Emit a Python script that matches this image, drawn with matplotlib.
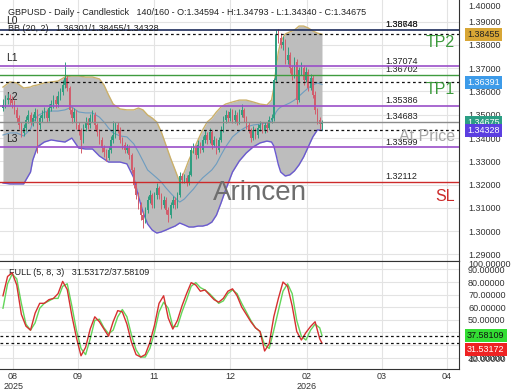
import matplotlib
import matplotlib.pyplot as plt
import matplotlib.transforms as mtransforms
import numpy as np

matplotlib.use('agg')

# --- candles (daily OHLC) ---
opens = [1.3530, 1.3542, 1.3563, 1.3572, 1.3563, 1.3550, 1.3521, 1.3486, 1.3456, 1.3422,
         1.3443, 1.3478, 1.3500, 1.3469, 1.3486, 1.3512, 1.3456, 1.3486, 1.3500, 1.3512,
         1.3486, 1.3529, 1.3546, 1.3563, 1.3546, 1.3581, 1.3598, 1.3628, 1.3658, 1.3615,
         1.3521, 1.3486, 1.3512, 1.3456, 1.3435, 1.3392, 1.3443, 1.3469, 1.3456, 1.3486,
         1.3500, 1.3456, 1.3426, 1.3392, 1.3357, 1.3340, 1.3314, 1.3349, 1.3392, 1.3413,
         1.3456, 1.3435, 1.3392, 1.3370, 1.3349, 1.3357, 1.3327, 1.3263, 1.3199, 1.3156,
         1.3113, 1.3070, 1.3048, 1.3091, 1.3134, 1.3156, 1.3113, 1.3156, 1.3186, 1.3156,
         1.3113, 1.3134, 1.3091, 1.3070, 1.3113, 1.3134, 1.3113, 1.3156, 1.3237, 1.3220,
         1.3228, 1.3211, 1.3241, 1.3349, 1.3357, 1.3327, 1.3370, 1.3349, 1.3392, 1.3413,
         1.3392, 1.3426, 1.3370, 1.3392, 1.3349, 1.3392, 1.3435, 1.3478, 1.3500, 1.3486,
         1.3512, 1.3478, 1.3500, 1.3469, 1.3500, 1.3521, 1.3486, 1.3456, 1.3435, 1.3401,
         1.3435, 1.3413, 1.3443, 1.3456, 1.3435, 1.3456, 1.3443, 1.3478, 1.3486, 1.3649,
         1.3843, 1.3830, 1.3800, 1.3813, 1.3735, 1.3757, 1.3701, 1.3670, 1.3727, 1.3563,
         1.3692, 1.3701, 1.3649, 1.3683, 1.3615, 1.3658, 1.3585, 1.3521, 1.3478, 1.34594]
highs = [1.3568, 1.3585, 1.3595, 1.3590, 1.3580, 1.3565, 1.3535, 1.3500, 1.3470, 1.3460,
         1.3495, 1.3520, 1.3512, 1.3505, 1.3530, 1.3525, 1.3500, 1.3520, 1.3535, 1.3525,
         1.3545, 1.3565, 1.3585, 1.3580, 1.3600, 1.3615, 1.3650, 1.3727, 1.3670, 1.3625,
         1.3535, 1.3530, 1.3520, 1.3470, 1.3445, 1.3460, 1.3490, 1.3485, 1.3505, 1.3520,
         1.3510, 1.3465, 1.3440, 1.3405, 1.3370, 1.3355, 1.3365, 1.3410, 1.3475, 1.3470,
         1.3468, 1.3448, 1.3405, 1.3385, 1.3375, 1.3370, 1.3335, 1.3275, 1.3210, 1.3170,
         1.3125, 1.3085, 1.3105, 1.3150, 1.3175, 1.3165, 1.3170, 1.3205, 1.3195, 1.3165,
         1.3150, 1.3145, 1.3105, 1.3125, 1.3150, 1.3145, 1.3170, 1.3255, 1.3250, 1.3245,
         1.3240, 1.3260, 1.3365, 1.3380, 1.3370, 1.3390, 1.3385, 1.3410, 1.3435, 1.3425,
         1.3445, 1.3435, 1.3410, 1.3400, 1.3405, 1.3450, 1.3495, 1.3520, 1.3515, 1.3530,
         1.3525, 1.3520, 1.3510, 1.3525, 1.3545, 1.3530, 1.3495, 1.3470, 1.3445, 1.3450,
         1.3445, 1.3460, 1.3475, 1.3470, 1.3470, 1.3468, 1.3495, 1.3505, 1.3660, 1.3865,
         1.3868, 1.3850, 1.3840, 1.3825, 1.3790, 1.3770, 1.3715, 1.3750, 1.3740, 1.3705,
         1.3725, 1.3715, 1.3705, 1.3695, 1.3675, 1.3670, 1.3600, 1.3530, 1.3490, 1.34793]
lows = [1.3518, 1.3530, 1.3548, 1.3540, 1.3530, 1.3505, 1.3470, 1.3440, 1.3405, 1.3410,
        1.3430, 1.3465, 1.3455, 1.3450, 1.3475, 1.3335, 1.3440, 1.3470, 1.3485, 1.3470,
        1.3475, 1.3515, 1.3530, 1.3530, 1.3535, 1.3565, 1.3585, 1.3615, 1.3600, 1.3505,
        1.3465, 1.3470, 1.3440, 1.3415, 1.3335, 1.3380, 1.3430, 1.3440, 1.3445, 1.3470,
        1.3440, 1.3410, 1.3375, 1.3340, 1.3320, 1.3300, 1.3305, 1.3335, 1.3380, 1.3400,
        1.3420, 1.3378, 1.3355, 1.3335, 1.3335, 1.3310, 1.3250, 1.3185, 1.3140, 1.3095,
        1.3050, 1.3015, 1.3035, 1.3080, 1.3120, 1.3100, 1.3100, 1.3140, 1.3140, 1.3095,
        1.3100, 1.3075, 1.3040, 1.3055, 1.3100, 1.3095, 1.3100, 1.3145, 1.3205, 1.3205,
        1.3195, 1.3200, 1.3235, 1.3335, 1.3310, 1.3315, 1.3335, 1.3340, 1.3380, 1.3375,
        1.3380, 1.3355, 1.3360, 1.3330, 1.3340, 1.3385, 1.3425, 1.3465, 1.3470, 1.3475,
        1.3465, 1.3465, 1.3455, 1.3460, 1.3490, 1.3470, 1.3440, 1.3420, 1.3385, 1.3390,
        1.3395, 1.3400, 1.3430, 1.3420, 1.3420, 1.3428, 1.3435, 1.3465, 1.3475, 1.3640,
        1.3810, 1.3785, 1.3780, 1.3720, 1.3720, 1.3680, 1.3650, 1.3660, 1.3545, 1.3555,
        1.3670, 1.3630, 1.3640, 1.3600, 1.3605, 1.3570, 1.3505, 1.3460, 1.3440, 1.34340]
closes = [1.3542, 1.3563, 1.3572, 1.3563, 1.3550, 1.3521, 1.3486, 1.3456, 1.3422, 1.3443,
          1.3478, 1.3500, 1.3469, 1.3486, 1.3512, 1.3456, 1.3486, 1.3500, 1.3512, 1.3486,
          1.3529, 1.3546, 1.3563, 1.3546, 1.3581, 1.3598, 1.3628, 1.3658, 1.3615, 1.3521,
          1.3486, 1.3512, 1.3456, 1.3435, 1.3392, 1.3443, 1.3469, 1.3456, 1.3486, 1.3500,
          1.3456, 1.3426, 1.3392, 1.3357, 1.3340, 1.3314, 1.3349, 1.3392, 1.3413, 1.3456,
          1.3435, 1.3392, 1.3370, 1.3349, 1.3357, 1.3327, 1.3263, 1.3199, 1.3156, 1.3113,
          1.3070, 1.3048, 1.3091, 1.3134, 1.3156, 1.3113, 1.3156, 1.3186, 1.3156, 1.3113,
          1.3134, 1.3091, 1.3070, 1.3113, 1.3134, 1.3113, 1.3156, 1.3237, 1.3220, 1.3228,
          1.3211, 1.3241, 1.3349, 1.3357, 1.3327, 1.3370, 1.3349, 1.3392, 1.3413, 1.3392,
          1.3426, 1.3370, 1.3392, 1.3349, 1.3392, 1.3435, 1.3478, 1.3500, 1.3486, 1.3512,
          1.3478, 1.3500, 1.3469, 1.3500, 1.3521, 1.3486, 1.3456, 1.3435, 1.3401, 1.3435,
          1.3413, 1.3443, 1.3456, 1.3435, 1.3456, 1.3443, 1.3478, 1.3486, 1.3649, 1.3843,
          1.3830, 1.3800, 1.3813, 1.3735, 1.3757, 1.3701, 1.3670, 1.3727, 1.3563, 1.3692,
          1.3701, 1.3649, 1.3683, 1.3615, 1.3658, 1.3585, 1.3521, 1.3478, 1.34594, 1.34675]

# --- Bollinger bands (20, 2) at these bars ---
bb_bars = [0, 3, 6, 9, 12, 13, 15, 18, 21, 24, 27, 30, 33, 36, 39, 42, 44, 46, 48, 51,
           54, 57, 59, 61, 63, 65, 67, 69, 71, 73, 75, 77, 79, 81, 83, 85, 87, 89, 91, 93,
           95, 97, 100, 103, 106, 109, 112, 115, 117, 118, 119, 120, 121, 123, 125, 127,
           129, 131, 133, 135, 137, 139]
bb_upper = [1.3619, 1.3641, 1.3637, 1.3615, 1.3619, 1.3624, 1.3628, 1.3637, 1.3641, 1.3645,
            1.3662, 1.3667, 1.3667, 1.3662, 1.3662, 1.3654, 1.3628, 1.3585, 1.3546, 1.3525,
            1.3521, 1.3521, 1.3529, 1.3521, 1.3499, 1.3486, 1.3469, 1.3426, 1.3370, 1.3314,
            1.3263, 1.3211, 1.3254, 1.3306, 1.3349, 1.3392, 1.3435, 1.3469, 1.3486, 1.3512,
            1.3533, 1.3546, 1.3555, 1.3563, 1.3563, 1.3555, 1.3546, 1.3542, 1.3563, 1.3615,
            1.3701, 1.3770, 1.3813, 1.3847, 1.3856, 1.3864, 1.3881, 1.3881, 1.3873, 1.3860,
            1.3851, 1.38455]
bb_mid = [1.3413, 1.3422, 1.3422, 1.3409, 1.3439, 1.3465, 1.3495, 1.3512, 1.3516, 1.3516,
          1.3521, 1.3533, 1.3512, 1.3508, 1.3508, 1.3490, 1.3469, 1.3443, 1.3422, 1.3409,
          1.3405, 1.3375, 1.3340, 1.3302, 1.3263, 1.3246, 1.3229, 1.3211, 1.3186, 1.3164,
          1.3143, 1.3125, 1.3138, 1.3160, 1.3181, 1.3207, 1.3229, 1.3246, 1.3263, 1.3289,
          1.3327, 1.3362, 1.3405, 1.3430, 1.3448, 1.3456, 1.3460, 1.3465, 1.3473, 1.3490,
          1.3512, 1.3525, 1.3533, 1.3542, 1.3551, 1.3563, 1.3580, 1.3598, 1.3615, 1.3628,
          1.3637, 1.36301]
bb_lower = [1.3207, 1.3203, 1.3203, 1.3203, 1.3254, 1.3306, 1.3362, 1.3383, 1.3392, 1.3387,
            1.3383, 1.3400, 1.3357, 1.3353, 1.3353, 1.3323, 1.3310, 1.3297, 1.3297, 1.3297,
            1.3289, 1.3229, 1.3151, 1.3082, 1.3031, 1.3005, 1.2992, 1.2997, 1.3005, 1.3014,
            1.3022, 1.3035, 1.3027, 1.3018, 1.3018, 1.3022, 1.3022, 1.3027, 1.3039, 1.3069,
            1.3121, 1.3177, 1.3254, 1.3302, 1.3336, 1.3362, 1.3379, 1.3387, 1.3383, 1.3366,
            1.3327, 1.3285, 1.3254, 1.3237, 1.3242, 1.3259, 1.3285, 1.3319, 1.3362, 1.3405,
            1.3435, 1.34328]

# --- Full stochastic (5, 8, 3), every second bar plus the last ---
stoch_bars = list(range(0, 140, 2)) + [139]
stoch_k = [69.1, 84.4, 87.3, 77.6, 54.4, 45.0, 41.8, 55.3, 63.1, 63.1,
           66.0, 67.0, 70.8, 80.5, 74.0, 53.4, 35.9, 21.5, 28.2, 42.7,
           52.4, 48.5, 42.7, 37.0, 48.5, 57.3, 56.3, 46.6, 32.1, 22.4,
           20.5, 22.4, 32.1, 45.6, 63.1, 69.1, 51.5, 42.7, 49.5, 61.1,
           70.8, 79.5, 77.6, 72.7, 73.7, 69.8, 66.0, 64.0, 67.0, 72.7,
           74.6, 69.1, 60.2, 54.4, 48.5, 43.7, 40.8, 25.3, 31.1, 52.4,
           67.0, 80.0, 76.6, 61.1, 40.8, 34.0, 39.9, 44.7, 48.5, 35.0,
           31.53]
stoch_d = [59.2, 78.6, 86.3, 82.5, 63.1, 46.6, 41.8, 47.6, 59.2, 63.1,
           65.0, 67.0, 67.0, 76.6, 78.6, 61.1, 41.8, 27.3, 22.4, 34.9,
           49.5, 50.5, 43.7, 39.0, 41.8, 52.4, 58.2, 52.4, 37.9, 26.3,
           20.5, 20.5, 27.3, 39.9, 56.3, 64.0, 59.2, 44.7, 44.7, 56.3,
           66.0, 76.6, 79.5, 75.6, 73.7, 70.8, 67.0, 63.1, 65.0, 70.8,
           73.7, 70.8, 63.1, 56.3, 49.5, 43.7, 40.8, 30.2, 27.3, 41.8,
           57.3, 72.7, 78.6, 70.8, 49.5, 37.0, 34.0, 41.8, 46.6, 43.7,
           37.58]

# --- horizontal levels ---
level_names = ['L0', 'L1', 'L2', 'L3']
level_values = [1.38648, 1.37074, 1.35386, 1.33599]
tp1_value = 1.36702
at_price_value = 1.34683
sl_value = 1.32112
dashed_values = [1.38455, 1.36391, 1.34328]

month_ticks = [4.4, 32.7, 65.8, 98.9, 132.5, 165.1, 193.5]
month_labels = ['08\n2025', '09', '11', '12', '02\n2026', '03', '04']

plt.rcParams['font.family'] = ['Liberation Sans', 'DejaVu Sans']

fig = plt.figure(figsize=(5.2, 3.9), dpi=100)
ax = fig.add_axes([0, 0.3308, 0.8827, 0.6692])
ax2 = fig.add_axes([0, 0.0538, 0.8827, 0.2769], sharex=ax)

o = np.array(opens)
h = np.array(highs)
lo = np.array(lows)
c = np.array(closes)
x = np.arange(len(c))
cols = np.where(c >= o, '#2f9e80', '#d25d6c')

# Bollinger bands
ax.fill_between(bb_bars, bb_lower, bb_upper, color='#bdbdbd', lw=0, zorder=1)
ax.plot(bb_bars, bb_upper, color='#cbb06a', lw=1, zorder=2)
ax.plot(bb_bars, bb_lower, color='#6a5ad0', lw=1, zorder=2)
ax.plot(bb_bars, bb_mid, color='#6d9cc0', lw=0.8, zorder=2)

# candles
ax.vlines(x, lo, h, colors=cols, lw=0.7, zorder=4)
ax.bar(x, np.maximum(np.abs(c - o), 0.00015), bottom=np.minimum(o, c),
       width=0.65, color=cols, lw=0, zorder=5)

# level lines
ax.axhline(level_values[0], color='#1c2b5a', lw=1.2, zorder=6)
for v in level_values[1:]:
    ax.axhline(v, color='#9a4fc8', lw=1.2, zorder=6)
ax.axhline(tp1_value, color='#3f9b3f', lw=1, zorder=6)
ax.axhline(at_price_value, color='#8c8c8c', lw=1, zorder=6)
ax.axhline(sl_value, color='#cc2a2a', lw=1, zorder=6)
for v in dashed_values:
    ax.axhline(v, color='#111111', lw=0.9, ls=(0, (2.2, 2.2)), zorder=6)

ax.set_xlim(-1.3, 198.7)
ax.set_ylim(1.2872, 1.3993)
ax.set_yticks(np.arange(1.29, 1.3905, 0.01))
ax.yaxis.set_major_formatter(matplotlib.ticker.FormatStrFormatter('%.5f'))
ax.yaxis.tick_right()
ax.tick_params(axis='y', length=0, pad=6.5, labelsize=6.5, labelcolor='#333333')
ax.tick_params(axis='x', length=0, labelbottom=False)
ax.set_xticks(month_ticks)
ax.grid(color='#e3e3e3', lw=0.8)
ax.set_axisbelow(True)
for side in ['left', 'top']:
    ax.spines[side].set_visible(False)
for side in ['right', 'bottom']:
    ax.spines[side].set_color('#333333')

trans = mtransforms.blended_transform_factory(ax.transAxes, ax.transData)

# texts on main panel
ax.text(0.0174, 0.954, 'GBPUSD - Daily - Candlestick   140/160 - O:1.34594 - H:1.34793'
        ' - L:1.34340 - C:1.34675', transform=ax.transAxes, fontsize=6.5,
        color='#222222', va='center')
ax.text(0.0174, 0.889, 'BB (20, 2)   1.36301/1.38455/1.34328', transform=ax.transAxes,
        fontsize=6.5, color='#222222', va='center', zorder=7)
ax.text(1.0196, 0.977, '1.40000', transform=ax.transAxes, fontsize=6.5,
        color='#333333', va='center', clip_on=False)

for name, v in zip(level_names, level_values):
    ax.annotate(name, xy=(0.013, v), xycoords=trans, xytext=(0, 4),
                textcoords='offset points', fontsize=7.5, color='#222222', va='baseline')

price_labels = [('1.38748', level_values[0]), ('1.38648', level_values[0]),
                ('1.37074', level_values[1]), ('1.36702', tp1_value),
                ('1.35386', level_values[2]), ('1.34683', at_price_value),
                ('1.33599', level_values[3]), ('1.32112', sl_value)]
for txt, v in price_labels:
    ax.annotate(txt, xy=(0.8388, v), xycoords=trans, xytext=(0, 2),
                textcoords='offset points', fontsize=6.5, color='#222222', va='baseline')

tag_texts = [('TP2', level_values[0], '#3c9a3c', -12.5), ('TP1', tp1_value, '#3c9a3c', -13.5),
             ('At Price', at_price_value, '#a5a5a5', -13.5), ('SL', sl_value, '#cc2a2a', -13.5)]
for txt, v, col, dy in tag_texts:
    ax.annotate(txt, xy=(0.9913, v), xycoords=trans, xytext=(0, dy),
                textcoords='offset points', fontsize=11.5, color=col,
                ha='right', va='baseline', zorder=7)

ax.text(0.5664, 0.2605, 'Arincen', transform=ax.transAxes, fontsize=20,
        color='#6e6e6e', ha='center', va='center', zorder=7)

# value boxes on the price scale
boxes = [(1.38455, '1.38455', '#d8a635', '#222222'),
         (1.36391, '1.36391', '#3d9be9', 'white'),
         (1.34675, '1.34675', '#2b9e84', 'white'),
         (1.34328, '1.34328', '#5b3fe0', 'white')]
for v, txt, fc, tc in boxes:
    ax.text(1.0174, v, txt, transform=trans, fontsize=6.5, color=tc, va='center',
            clip_on=False, zorder=8,
            bbox=dict(boxstyle='square,pad=0.25', fc=fc, ec='none'))

# --- stochastic panel ---
ax2.plot(stoch_bars, stoch_d, color='#63d65a', lw=1, zorder=3)
ax2.plot(stoch_bars, stoch_k, color='#d63030', lw=1, zorder=4)
for v in [37.58109, 31.53172]:
    ax2.axhline(v, color='#111111', lw=0.9, ls=(0, (2.2, 2.2)), zorder=5)

ax2.set_ylim(11.0, 96.65)
ax2.set_yticks([20, 30, 40, 50, 60, 70, 80, 90])
ax2.yaxis.set_major_formatter(matplotlib.ticker.FormatStrFormatter('%.5f'))
ax2.yaxis.tick_right()
ax2.tick_params(axis='y', length=0, pad=6.5, labelsize=6.5, labelcolor='#333333')
ax2.set_xticks(month_ticks)
ax2.set_xticklabels(month_labels)
ax2.tick_params(axis='x', length=0, pad=2, labelsize=6.5, labelcolor='#333333')
ax2.grid(color='#e3e3e3', lw=0.8)
ax2.set_axisbelow(True)
ax2.spines['left'].set_visible(False)
for side in ['right', 'bottom', 'top']:
    ax2.spines[side].set_color('#333333')

trans2 = mtransforms.blended_transform_factory(ax2.transAxes, ax2.transData)
ax2.text(1.0196, 93.5, '100.00000', transform=trans2, fontsize=6.5, color='#333333',
         va='center', clip_on=False)
ax2.text(1.0196, 18.2, '10.00000', transform=trans2, fontsize=6.5, color='#333333',
         va='center', clip_on=False)
ax2.text(0.0196, 0.898, 'FULL (5, 8, 3)   31.53172/37.58109', transform=ax2.transAxes,
         fontsize=6.5, color='#222222', va='center')

ax2.text(1.0174, 37.58, '37.58109', transform=trans2, fontsize=6.5, color='#111111',
         va='center', clip_on=False, zorder=8,
         bbox=dict(boxstyle='square,pad=0.25', fc='#33dd33', ec='none'))
ax2.text(1.0174, 26.3, '31.53172', transform=trans2, fontsize=6.5, color='white',
         va='center', clip_on=False, zorder=8,
         bbox=dict(boxstyle='square,pad=0.25', fc='#ee2222', ec='none'))

plt.savefig('out.png', dpi=100)
